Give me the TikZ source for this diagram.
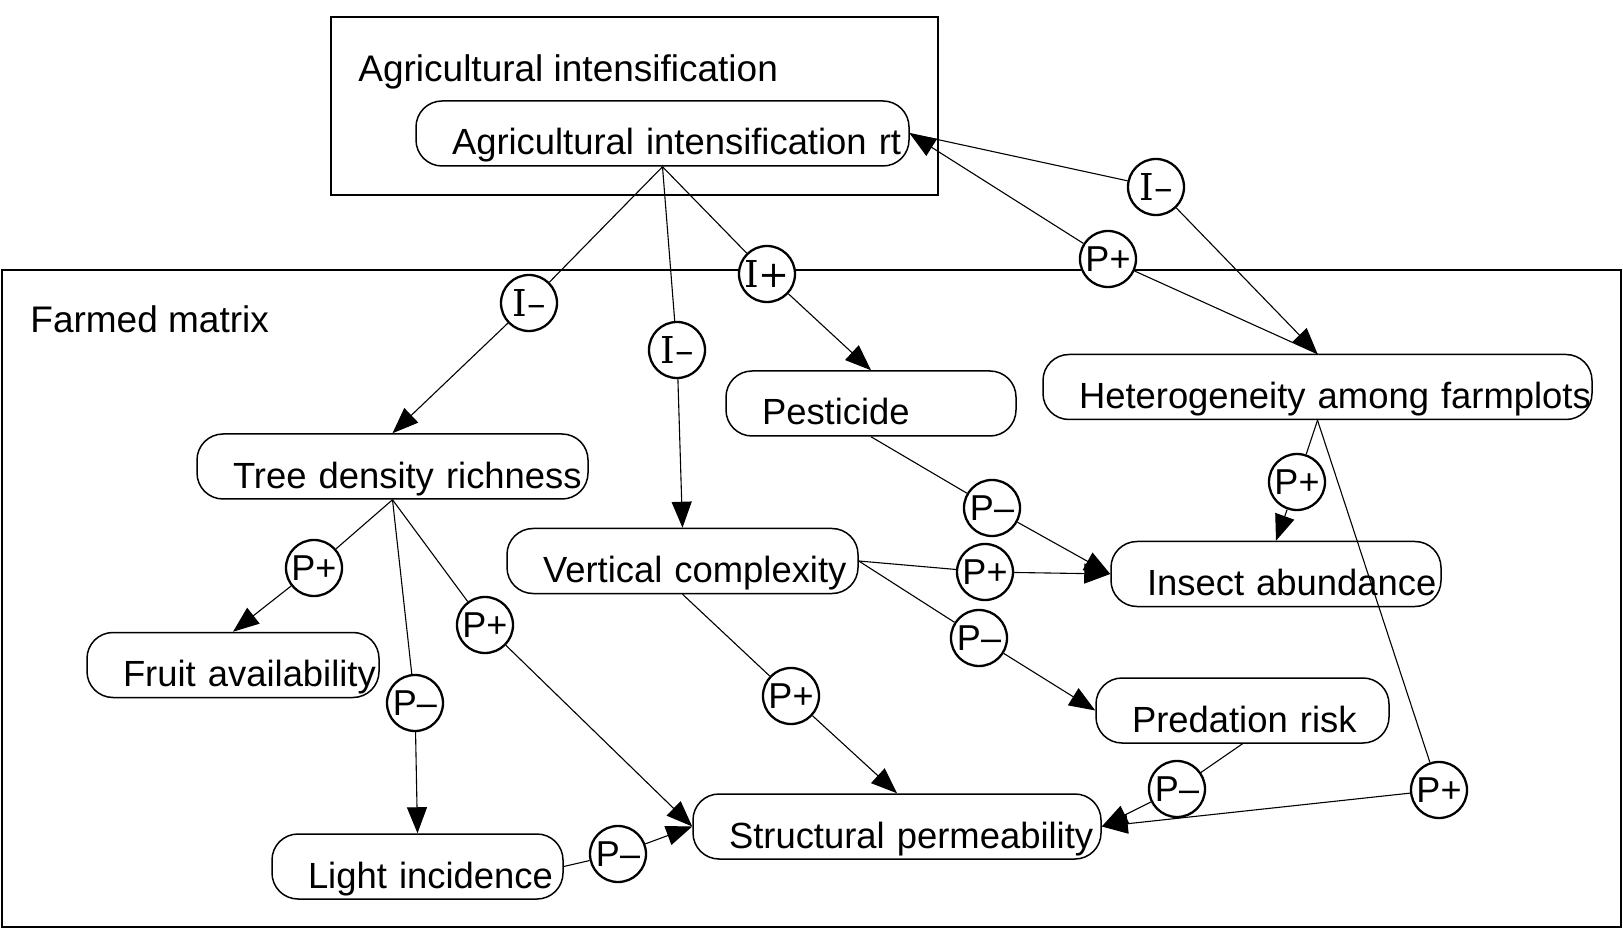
\documentclass[tikz,border=0pt]{standalone}
\usepackage{fontspec}
\setmainfont{Liberation Sans}
\newfontfamily\signserif{DejaVu Serif}
\usetikzlibrary{arrows.meta}
\newcommand\labelfont{\fontsize{18.5}{22}\selectfont}
\newcommand\factorfont{\fontsize{18.2}{22}\selectfont\hyphenpenalty=10000\exhyphenpenalty=10000}
\newcommand\signfont{\fontsize{18}{20}\selectfont}
\newcommand\isignfont{\signserif\fontsize{18.5}{20}\selectfont}
\tikzset{
  factor/.style={draw,line width=.75pt,rounded corners=13pt,inner xsep=18pt,inner ysep=0pt,
    text height=27pt,text depth=5.5pt,text width=#1,align=left,font=\factorfont},
  sign/.style={circle,draw,line width=1.15pt,fill=white,minimum size=28pt,inner sep=0pt,font=\signfont},
  isign/.style={sign,font=\isignfont},
  link/.style={line width=.55pt},
  flow/.style={link,-{Triangle[length=13pt,width=10pt]}},
  group/.style={draw,line width=.8pt},
  grouplabel/.style={anchor=base west,inner sep=0pt,font=\labelfont}
}

\begin{document}
\begin{tikzpicture}[x=.5pt,y=-.5pt]
  \useasboundingbox (0,0) rectangle (1623,930);
  % groups
  \draw[group] (331,17) rectangle (938,195);
  \draw[group] (2,270) rectangle (1621,927);
  \node[grouplabel] (intlabel) at (358,82) {Agricultural intensification};
  \node[grouplabel] (matrixlabel) at (30,333) {Farmed matrix};

  % factors
  \node[factor=210.5pt] (airt) at (662.5,133.5) {Agricultural~intensification~rt};
  \node[factor=159.5pt] (tree) at (392.5,466.5) {Tree~density~richness};
  \node[factor=109pt] (pest) at (871,403.5) {Pesticide};
  \node[factor=238.5pt] (het) at (1317.5,387) {Heterogeneity~among~farmplots};
  \node[factor=139.5pt] (vert) at (682.5,561) {Vertical~complexity};
  \node[factor=129pt] (insect) at (1276,574) {Insect~abundance};
  \node[factor=110pt] (fruit) at (233,665) {Fruit~availability};
  \node[factor=110.5pt] (pred) at (1242.5,710.5) {Predation~risk};
  \node[factor=168pt] (struct) at (897,826.5) {Structural~permeability};
  \node[factor=109.5pt] (light) at (417.5,866.5) {Light~incidence};

  % signs
  \node[isign] (iAH) at (1156,187) {I–};
  \node[sign] (pHA) at (1108,259) {P+};
  \node[isign] (iAT) at (529,303) {I–};
  \node[isign] (iAV) at (677,350) {I–};
  \node[isign] (iAP) at (767,274) {I+};
  \node[sign] (pHI) at (1297,482) {P+};
  \node[sign] (pPI) at (992,508) {P–};
  \node[sign] (pVI) at (985,572) {P+};
  \node[sign] (pVP) at (979,638) {P–};
  \node[sign] (pTF) at (314,568) {P+};
  \node[sign] (pTS) at (485,625) {P+};
  \node[sign] (pTL) at (415,703) {P–};
  \node[sign] (pVS) at (791,696) {P+};
  \node[sign] (pLS) at (618,854) {P–};
  \node[sign] (pPS) at (1177,789) {P–};
  \node[sign] (pHS) at (1439,790) {P+};

  % links
  \draw[link] (airt.east)--(iAH);
  \draw[flow] (iAH)--(het.north);
  \draw[link] (het.north)--(pHA);
  \draw[flow] (pHA)--(airt.east);
  \draw[link] (airt.south)--(iAT);
  \draw[flow] (iAT)--(tree.north);
  \draw[link] (airt.south)--(iAV);
  \draw[flow] (iAV)--(vert.north);
  \draw[link] (airt.south)--(iAP);
  \draw[flow] (iAP)--(pest.north);
  \draw[link] (het.south)--(pHI);
  \draw[flow] (pHI)--(insect.north);
  \draw[link] (het.south)--(pHS);
  \draw[flow] (pHS)--(struct.east);
  \draw[link] (pest.south)--(pPI);
  \draw[flow] (pPI)--(insect.west);
  \draw[link] (vert.east)--(pVI);
  \draw[flow] (pVI)--(insect.west);
  \draw[link] (vert.east)--(pVP);
  \draw[flow] (pVP)--(pred.west);
  \draw[link] (vert.south)--(pVS);
  \draw[flow] (pVS)--(struct.north);
  \draw[link] (tree.south)--(pTF);
  \draw[flow] (pTF)--(fruit.north);
  \draw[link] (tree.south)--(pTS);
  \draw[flow] (pTS)--(struct.west);
  \draw[link] (tree.south)--(pTL);
  \draw[flow] (pTL)--(light.north);
  \draw[link] (light.east)--(pLS);
  \draw[flow] (pLS)--(struct.west);
  \draw[link] (pred.south)--(pPS);
  \draw[flow] (pPS)--(struct.east);
\end{tikzpicture}
\end{document}
